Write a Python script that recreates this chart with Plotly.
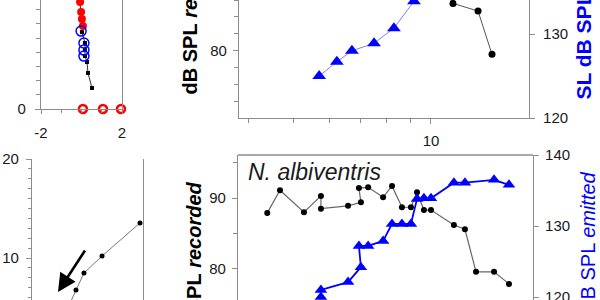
import plotly.graph_objects as go

# ---------------- data ----------------
# Panel A (top-left)
a_line_x = [-0.15, -0.07, -0.02, 0.02, 0.07, 0.02, 0.17, 0.17, 0.17, 0.27, 0.32, 0.52]
a_line_y = [8.3, 7.54, 6.83, 6.34, 5.85, 5.42, 4.65, 4.15, 3.73, 3.31, 2.54, 1.48]
a_red_x = [-0.07, -0.02, 0.02, 0.07]
a_red_y = [7.54, 6.83, 6.34, 5.85]
a_blue_x = [-0.02, 0.12, 0.12, 0.12]
a_blue_y = [5.49, 4.65, 4.15, 3.73]
a_zero_x = [0.07, 1.06, 1.95]
a_zero_y = [0, 0, 0]

# Panel B (bottom-left)
b_x = [3.2, 3.96, 4.68, 6.31, 9.73]
b_y = [4.9, 6.77, 8.48, 10.2, 13.54]

# Panel C (top-middle)
c_blue_x = [5.70, 6.23, 6.72, 7.51, 8.30, 9.18]
c_blue_y = [125.0, 126.7, 128.0, 128.9, 130.7, 133.9]
c_black_x = [10.3, 11.17, 12.67, 13.59]
c_black_y = [88.5, 85.6, 84.7, 79.6]

# Panel D (bottom-middle, N. albiventris)
d_black_x = [4.39, 4.68, 5.28, 5.75, 5.75, 6.59, 7.03, 6.96, 7.29, 7.86, 8.22,
             8.64, 9.04, 9.32, 9.65, 10.0, 11.22, 11.86, 12.54, 13.73, 14.80]
d_black_y = [87.9, 91.1, 88.0, 90.3, 88.5, 88.9, 89.4, 91.4, 91.5, 90.1, 91.7,
             88.7, 88.7, 90.8, 88.3, 88.3, 86.2, 85.6, 79.6, 79.6, 77.9]
d_blue_x = [5.75, 5.75, 6.59, 7.03, 6.96, 7.29, 7.86, 8.22, 8.64, 9.04, 9.32,
            9.65, 10.0, 11.22, 11.86, 13.73, 14.80]
d_blue_y = [120.0, 121.0, 122.1, 124.2, 127.2, 127.2, 127.9, 130.3, 130.3, 130.3,
            133.8, 133.9, 133.9, 136.1, 136.1, 136.5, 135.8]

FONT = "Arial, Liberation Sans, sans-serif"
AX = "#8c8c8c"
TXT = "#1a1a1a"
BLUE = "#0000ff"

fig = go.Figure()

# Panel A
fig.add_trace(go.Scatter(x=a_line_x, y=a_line_y, mode="lines+markers",
                         line=dict(color="#333333", width=1),
                         marker=dict(symbol="square", size=4, color="black"),
                         xaxis="x", yaxis="y"))
fig.add_trace(go.Scatter(x=a_red_x, y=a_red_y, mode="markers",
                         marker=dict(symbol="circle", size=8, color="#ff0000"),
                         xaxis="x", yaxis="y"))
fig.add_trace(go.Scatter(x=a_blue_x, y=a_blue_y, mode="markers",
                         marker=dict(symbol="circle-open", size=10, color=BLUE,
                                     line=dict(width=1.5, color=BLUE)),
                         xaxis="x", yaxis="y"))
fig.add_trace(go.Scatter(x=a_zero_x, y=a_zero_y, mode="markers", cliponaxis=False,
                         marker=dict(symbol="circle-open", size=8, color="#ff0000",
                                     line=dict(width=2.6, color="#ff0000")),
                         xaxis="x", yaxis="y"))

# Panel B
fig.add_trace(go.Scatter(x=b_x, y=b_y, mode="lines+markers",
                         line=dict(color="#777777", width=1),
                         marker=dict(size=5, color="black"),
                         xaxis="x2", yaxis="y2"))

# Panel C
fig.add_trace(go.Scatter(x=c_blue_x, y=c_blue_y, mode="lines+markers",
                         line=dict(color="#8080ff", width=1),
                         marker=dict(symbol="triangle-up", size=12, color=BLUE),
                         xaxis="x3", yaxis="y4"))
fig.add_trace(go.Scatter(x=c_black_x, y=c_black_y, mode="lines+markers",
                         line=dict(color="#555555", width=1),
                         marker=dict(size=7, color="black"),
                         xaxis="x3", yaxis="y3"))

# Panel D
fig.add_trace(go.Scatter(x=d_blue_x, y=d_blue_y, mode="lines+markers",
                         line=dict(color=BLUE, width=1.8),
                         marker=dict(symbol="triangle-up", size=11, color=BLUE),
                         xaxis="x4", yaxis="y6"))
fig.add_trace(go.Scatter(x=d_black_x, y=d_black_y, mode="lines+markers",
                         line=dict(color="#666666", width=1.2),
                         marker=dict(size=6, color="black"),
                         xaxis="x4", yaxis="y5"))

tickfont = dict(family=FONT, size=15, color=TXT)


def axis_common(**kw):
    d = dict(showgrid=False, zeroline=False, linecolor=AX, linewidth=1.2,
             tickcolor=AX, ticks="outside", tickfont=tickfont, showline=True,
             automargin=False, ticklabeloverflow="allow")
    d.update(kw)
    return d


W, H = 600, 300

fig.update_layout(
    template="none",
    width=W, height=H, margin=dict(l=0, r=0, t=0, b=0, pad=0),
    paper_bgcolor="white", plot_bgcolor="white", showlegend=False,
    # Panel A
    xaxis=axis_common(domain=[41 / W, 122 / W], anchor="y", range=[-2, 2],
                      tickvals=[-2, 2], ticktext=["-2", "2"], ticklen=4,
                      ticklabelstandoff=6,
                      minor=dict(dtick=1, tick0=-2, ticklen=3, tickcolor=AX, ticks="outside")),
    yaxis=axis_common(domain=[1 - 109 / H, 1], anchor="x", range=[0, 7.68],
                      tickvals=[0], ticktext=["0"], ticklen=5, mirror=True,
                      ticklabelstandoff=6,
                      minor=dict(dtick=1, tick0=0, ticklen=4, tickcolor=AX, ticks="outside")),
    # Panel B
    xaxis2=dict(domain=[32 / W, 143 / W], anchor="y2", range=[0, 10],
                showline=False, showgrid=False, zeroline=False, ticks="",
                showticklabels=False, automargin=False),
    yaxis2=axis_common(domain=[0, 1 - 159 / H], anchor="x2", range=[5.76, 20],
                       tickvals=[10, 20], ticklen=5, mirror=True,
                       ticklabelstandoff=4,
                       minor=dict(dtick=1, tick0=0, ticklen=3, tickcolor=AX, ticks="outside")),
    # Panel C
    xaxis3=axis_common(type="log", domain=[239 / W, 529 / W], anchor="y3",
                       range=[0.5808, 1.214], tickvals=[10], ticktext=["10"],
                       ticklen=5, ticklabelstandoff=4,
                       minor=dict(tickvals=[4, 5, 6, 7, 8, 9], ticklen=4,
                                  tickcolor=AX, ticks="outside")),
    yaxis3=axis_common(domain=[1 - 118 / H, 1], anchor="x3", range=[72.1, 86.0],
                       tickvals=[80], ticklen=5, ticklabelstandoff=3,
                       minor=dict(dtick=2, tick0=0, ticklen=4, tickcolor=AX, ticks="outside")),
    yaxis4=axis_common(domain=[1 - 118 / H, 1], anchor="x3", overlaying="y3",
                       side="right", range=[120, 134.05], tickvals=[120, 130],
                       ticklen=5, ticklabelstandoff=5),
    # Panel D
    xaxis4=dict(type="log", domain=[238 / W, 533 / W], anchor="y5",
                range=[0.5786, 1.2227], showline=False, showgrid=False,
                zeroline=False, ticks="", showticklabels=False, automargin=False),
    yaxis5=axis_common(domain=[0, 1 - 155 / H], anchor="x4", range=[75.63, 96.06],
                       tickvals=[80, 90], ticklen=5, ticklabelstandoff=3,
                       minor=dict(dtick=5, tick0=0, ticklen=4, tickcolor=AX, ticks="outside")),
    yaxis6=axis_common(domain=[0, 1 - 155 / H], anchor="x4", overlaying="y5",
                       side="right", range=[119.58, 140], tickvals=[120, 130, 140],
                       ticklen=5, ticklabelstandoff=3),
)

# top frame line of panel D
fig.add_shape(type="line", xref="x4 domain", yref="y5 domain", x0=0, x1=1, y0=1, y1=1,
              line=dict(color=AX, width=1.5))

# arrow in panel B
fig.add_annotation(x=2.34, y=6.57, xref="x2", yref="y2", ax=28, ay=-43, text="",
                   showarrow=True, arrowhead=2, arrowsize=1.4, arrowwidth=2.6,
                   arrowcolor="black")

lab = dict(family=FONT, size=20, color="black")
fig.add_annotation(x=190 / W, y=1 - 97 / H, xref="paper", yref="paper",
                   text="<b>dB SPL</b> <b><i>recorded</i></b>", textangle=-90,
                   xanchor="center", yanchor="bottom", showarrow=False, font=lab)
fig.add_annotation(x=193 / W, y=1 - 180 / H, xref="paper", yref="paper",
                   text="<b>dB SPL</b> <b><i>recorded</i></b>", textangle=-90,
                   xanchor="center", yanchor="top", showarrow=False, font=lab)
fig.add_annotation(x=583 / W, y=1 - 102 / H, xref="paper", yref="paper",
                   text="<b>SL dB SPL</b>", textangle=-90,
                   xanchor="center", yanchor="bottom", showarrow=False,
                   font=dict(family=FONT, size=21, color=BLUE))
fig.add_annotation(x=587 / W, y=1 - 170 / H, xref="paper", yref="paper",
                   text="dB SPL <i>emitted</i>", textangle=-90,
                   xanchor="center", yanchor="top", showarrow=False,
                   font=dict(family=FONT, size=20, color=BLUE))
fig.add_annotation(x=246 / W, y=1 - 172 / H, xref="paper", yref="paper",
                   text="<i>N. albiventris</i>", xanchor="left", yanchor="middle",
                   showarrow=False, font=dict(family=FONT, size=23, color=TXT))

fig.write_html("out.html")
